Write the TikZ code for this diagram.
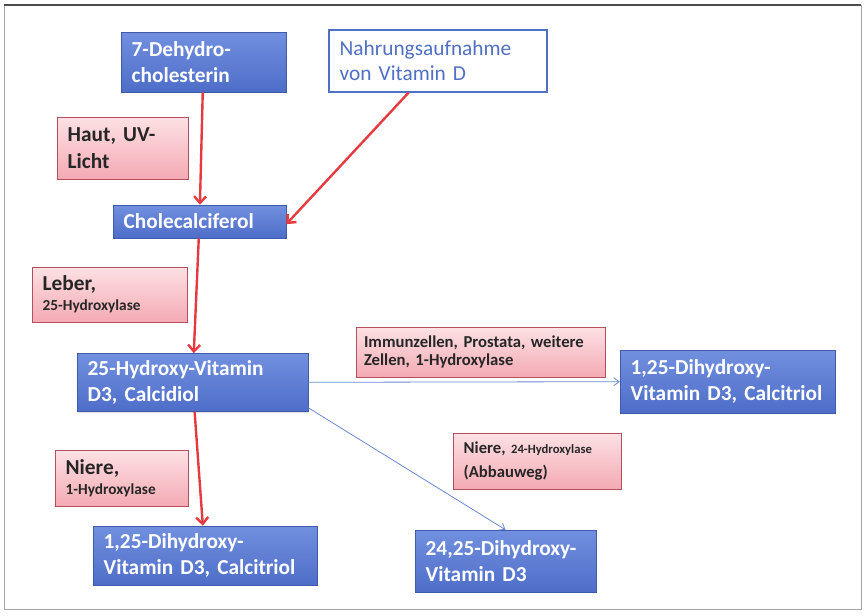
\documentclass[tikz,border=0pt]{standalone}
\usepackage{fontspec}
\setmainfont{Carlito}[WordSpace=0.8]
\usepackage{tikz}
\usetikzlibrary{arrows.meta,shadows}
\definecolor{boxtop}{HTML}{7190DF}
\definecolor{boxbot}{HTML}{4E6DC8}
\definecolor{boxline}{HTML}{3F5AA8}
\definecolor{notetop}{HTML}{FCE1E4}
\definecolor{notebot}{HTML}{F4AAB4}
\definecolor{noteline}{HTML}{B2505C}
\definecolor{arrowred}{HTML}{E43A40}
\definecolor{arrowblue}{HTML}{6A88D2}
\definecolor{foodblue}{HTML}{5070C4}
\tikzset{
    stepbox/.style={draw=boxline,top color=boxtop,bottom color=boxbot,text=white,
        font=\bfseries\fontsize{16}{20}\selectfont,align=left,inner xsep=8pt,
        drop shadow={shadow xshift=1pt,shadow yshift=-1pt,opacity=.25}},
    notebox/.style={draw=noteline,top color=notetop,bottom color=notebot,text=black!85,
        font=\bfseries\fontsize{16}{20}\selectfont,align=left,inner xsep=8pt},
    foodbox/.style={draw=foodblue,line width=0.8pt,fill=white,text=foodblue,
        font=\fontsize{16}{19}\selectfont,align=left,inner xsep=8pt},
    redarrow/.style={-{Straight Barb[length=5pt,width=9pt]},draw=arrowred,line width=1.8pt},
    bluearrow/.style={-{Straight Barb[length=4pt,width=6pt]},draw=arrowblue,line width=0.6pt}
}
\newcommand{\smalltext}[1]{{\fontsize{11.5}{13}\selectfont #1}}

\begin{document}
\frenchspacing
\begin{tikzpicture}[x=0.75pt,y=-0.75pt]
\useasboundingbox (0,0) rectangle (865,615);
\draw[gray!70,line width=0.6pt] (4,5) rectangle (861,609);
\draw[gray!60!black,line width=1pt] (4,5) -- (861,5);

% Stoffe
\node[stepbox,text width=107.75pt,minimum height=45pt] (dehydro) at (203.5,62) {7-Dehydro-\\cholesterin};
\node[foodbox,text width=147.5pt,minimum height=46.5pt] (food) at (438,61) {Nahrungsaufnahme\\von Vitamin D};
\node[stepbox,text width=113.75pt,minimum height=24.75pt] (chole) at (199.5,221.5) {Cholecalciferol};
\node[stepbox,text width=157.25pt,minimum height=43.5pt] (calcidiol) at (192.5,382.5) {25-Hydroxy-Vitamin\\D3, Calcidiol};
\node[stepbox,text width=145.25pt,minimum height=47.25pt] (calcitriolR) at (727.5,381.5) {1,25-Dihydroxy-\\Vitamin D3, Calcitriol};
\node[stepbox,text width=152pt,minimum height=44.25pt] (calcitriolB) at (205,555.5) {1,25-Dihydroxy-\\Vitamin D3, Calcitriol};
\node[stepbox,text width=119.75pt,minimum height=46.5pt] (dihydroxy) at (505.5,561) {24,25-Dihydroxy-\\Vitamin D3};

% Orte und Enzyme
\node[notebox,text width=82.25pt,minimum height=46.5pt] (skin) at (122.5,148) {Haut, UV-\\Licht};
\node[notebox,text width=100.25pt,minimum height=41.25pt,font=\bfseries\fontsize{16}{15}\selectfont] (liver) at (109.5,294.5) {Leber,\\\smalltext{25-Hydroxylase}};
\node[notebox,text width=174.75pt,minimum height=37.5pt,inner xsep=6pt,font=\bfseries\fontsize{12.5}{14}\selectfont] (cells) at (480.5,352) {Immunzellen, Prostata, weitere\\Zellen, 1-Hydroxylase};
\node[notebox,text width=83.75pt,minimum height=42pt,font=\bfseries\fontsize{16}{15}\selectfont] (kidney) at (121.5,478) {Niere,\\\smalltext{1-Hydroxylase}};
\node[notebox,text width=110pt,minimum height=42pt,font=\bfseries\fontsize{12.5}{18}\selectfont] (kidneyb) at (537,461) {Niere, {\fontsize{9.5}{12}\selectfont 24-Hydroxylase}\\(Abbauweg)};

\draw[redarrow] (dehydro) to (chole);
\draw[redarrow] (food) to ([yshift=-2pt]chole.east);
\draw[redarrow] (chole) to (calcidiol);
\draw[redarrow] (calcidiol) to (calcitriolB);
\draw[bluearrow] (calcidiol) to (calcitriolR);
\draw[bluearrow] ([yshift=3pt]calcidiol.south east) to (dihydroxy.north);

\end{tikzpicture}
\end{document}
